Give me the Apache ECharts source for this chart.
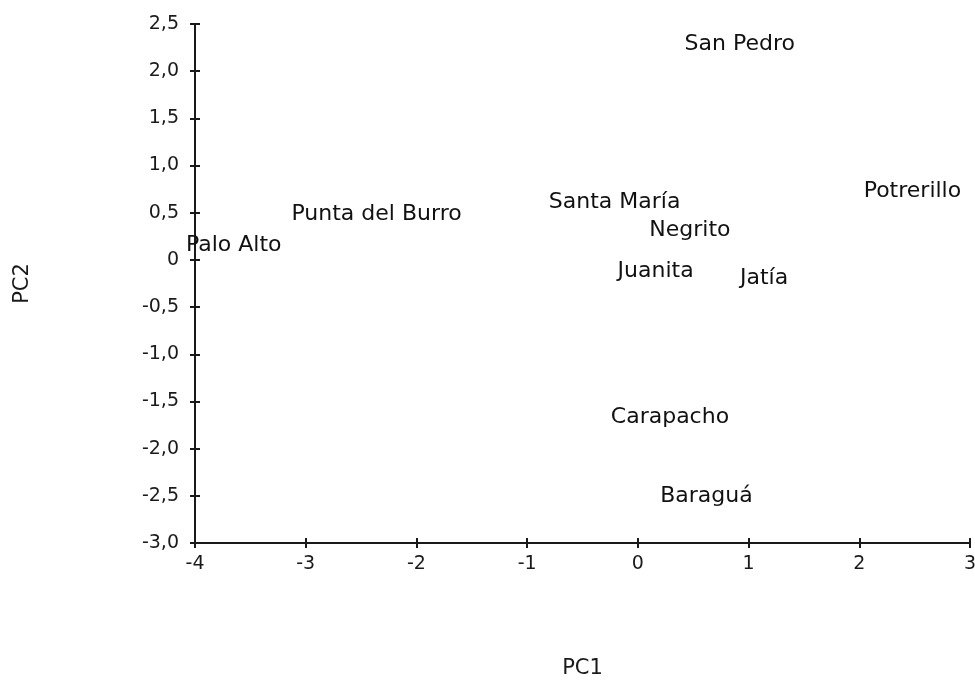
<!DOCTYPE html>
<html lang="es">
<head>
<meta charset="utf-8">
<title>PC1 vs PC2</title>
<script src="https://cdn.jsdelivr.net/npm/echarts@6/dist/echarts.min.js"></script>
<style>
  html, body { margin: 0; padding: 0; background: #fff; }
  #chart { width: 975px; height: 682px; }
</style>
</head>
<body>
<div id="chart"></div>
<script>
  // localidades y sus coordenadas en los dos primeros componentes
  const names = ['San Pedro', 'Potrerillo', 'Santa María', 'Punta del Burro', 'Negrito',
                 'Palo Alto', 'Juanita', 'Jatía', 'Carapacho', 'Baraguá'];
  const pc1 = [0.92, 2.48, -0.21, -2.36, 0.47, -3.65, 0.16, 1.14, 0.29, 0.62];
  const pc2 = [2.28, 0.73, 0.61, 0.48, 0.31, 0.16, -0.12, -0.19, -1.67, -2.51];

  const xTicks = { min: -4, max: 3, step: 1 };
  const yTicks = { min: -3, max: 2.5, step: 0.5 };

  const ink = '#1a1a1a';
  const font = 'DejaVu Sans, Verdana, sans-serif';

  const chart = echarts.init(document.getElementById('chart'));

  const yFmt = v => (v === 0 ? '0' : v.toFixed(1).replace('.', ','));

  // eje base (ticks hacia fuera) + eje gemelo (ticks hacia dentro) => ticks cruzados
  const baseX = {
    type: 'value', min: xTicks.min, max: xTicks.max, interval: xTicks.step,
    splitLine: { show: false }
  };
  const baseY = {
    type: 'value', min: yTicks.min, max: yTicks.max, interval: yTicks.step,
    splitLine: { show: false }
  };

  chart.setOption({
    animation: false,
    grid: { left: 195, right: 5, top: 24, bottom: 139, outerBoundsMode: 'none' },
    xAxis: [
      Object.assign({}, baseX, {
        name: 'PC1', nameLocation: 'middle', nameGap: 115,
        nameTextStyle: { color: ink, fontFamily: font, fontSize: 21 },
        axisLine: { show: true, onZero: false, lineStyle: { color: ink, width: 2 } },
        axisTick: { show: true, length: 5, lineStyle: { color: ink, width: 2 } },
        axisLabel: { color: ink, fontFamily: font, fontSize: 19, margin: 12 }
      }),
      Object.assign({}, baseX, {
        position: 'bottom',
        axisLine: { show: false, onZero: false },
        axisTick: { show: true, inside: true, length: 5, lineStyle: { color: ink, width: 2 } },
        axisLabel: { show: false }
      })
    ],
    yAxis: [
      Object.assign({}, baseY, {
        name: 'PC2', nameLocation: 'middle', nameGap: 162, nameRotate: 90,
        nameTextStyle: { color: ink, fontFamily: font, fontSize: 21 },
        axisLine: { show: true, onZero: false, lineStyle: { color: ink, width: 2 } },
        axisTick: { show: true, length: 5, lineStyle: { color: ink, width: 2 } },
        axisLabel: { color: ink, fontFamily: font, fontSize: 19, margin: 16, formatter: yFmt }
      }),
      Object.assign({}, baseY, {
        position: 'left',
        axisLine: { show: false, onZero: false },
        axisTick: { show: true, inside: true, length: 5, lineStyle: { color: ink, width: 2 } },
        axisLabel: { show: false }
      })
    ],
    series: [{
      type: 'scatter',
      symbolSize: 0,
      itemStyle: { opacity: 1 },
      data: names.map((n, i) => ({ name: n, value: [pc1[i], pc2[i]] })),
      label: {
        show: true,
        position: 'inside',
        formatter: p => p.name,
        color: '#111',
        opacity: 1,
        fontFamily: font,
        fontSize: 22
      },
      emphasis: { disabled: true }
    }]
  });
</script>
</body>
</html>
